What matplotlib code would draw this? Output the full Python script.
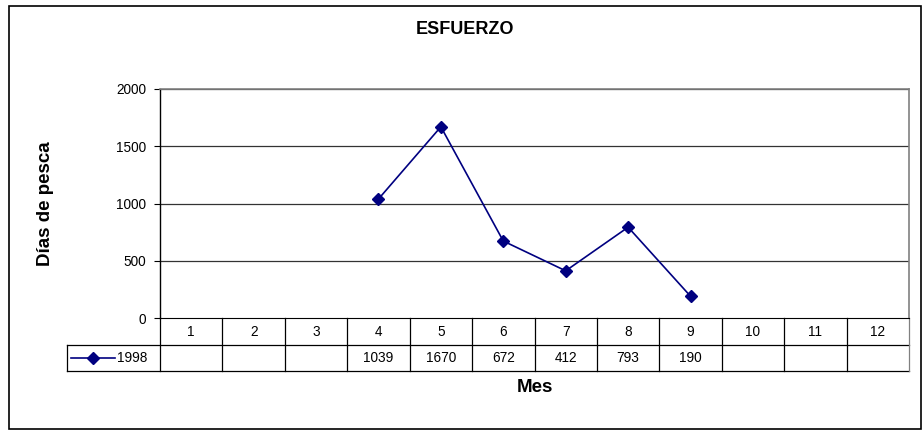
import matplotlib
matplotlib.use("Agg")
import matplotlib.pyplot as plt
from matplotlib.lines import Line2D
from matplotlib.patches import Rectangle
import matplotlib.transforms as mtransforms

plt.rcParams['font.family'] = ['Liberation Sans', 'DejaVu Sans']

# data
months = [1, 2, 3, 4, 5, 6, 7, 8, 9, 10, 11, 12]
dias_1998 = [None, None, None, 1039, 1670, 672, 412, 793, 190, None, None, None]
series_name = '1998'
yticks = [0, 500, 1000, 1500, 2000]

navy = '#000080'
fs_small = 9.8

fig = plt.figure(figsize=(9.22, 4.30), dpi=100)
W, H = 922, 430

# outer chart border
fig.patches.append(Rectangle((9 / W, 1 / H), 912 / W, 423 / H, transform=fig.transFigure,
                             fill=False, edgecolor='black', linewidth=1.2))

left, right, top, bottom = 160, 909, 89, 318
ax = fig.add_axes([left / W, 1 - bottom / H, (right - left) / W, (bottom - top) / H])

xs = [m for m, v in zip(months, dias_1998) if v is not None]
ys = [v for v in dias_1998 if v is not None]
ax.plot(xs, ys, color=navy, linewidth=1.2, marker='D', markersize=6,
        markerfacecolor=navy, markeredgecolor=navy)

ax.set_xlim(0.5, 12.5)
ax.set_ylim(0, 2000)
ax.set_yticks(yticks)
ax.set_yticklabels([str(t) for t in yticks], fontsize=fs_small)
ax.set_xticks([])
ax.tick_params(axis='y', length=4, width=0.8, pad=6)
for t in yticks[1:]:
    ax.axhline(t, color='#333333', linewidth=0.9, zorder=0)

ax.spines['left'].set_color('black')
ax.spines['left'].set_linewidth(1)
ax.spines['bottom'].set_color('black')
for s in ('top', 'right'):
    ax.spines[s].set_color('#808080')
    ax.spines[s].set_linewidth(1.2)

# data table below the plot
trans = mtransforms.blended_transform_factory(ax.transData, ax.transAxes)
col_px = (right - left) / 12
row_h = 27 / (bottom - top)
row2_h = 26 / (bottom - top)
y0 = 0
y1 = -row_h
y2 = -row_h - row2_h
label_x0 = 0.5 - (left - 67) / col_px

lw = 0.9
# horizontal lines
ax.add_line(Line2D([label_x0, 12.5], [y1, y1], transform=trans, color='black', lw=lw, clip_on=False))
ax.add_line(Line2D([label_x0, 12.5], [y2, y2], transform=trans, color='black', lw=lw, clip_on=False))
# vertical lines
for i in range(13):
    xv = 0.5 + i
    col = '#808080' if i == 12 else 'black'
    ax.add_line(Line2D([xv, xv], [y0, y2], transform=trans, color=col, lw=lw, clip_on=False))
ax.add_line(Line2D([label_x0, label_x0], [y1, y2], transform=trans, color='black', lw=lw, clip_on=False))

# header and value cells
for m, v in zip(months, dias_1998):
    ax.text(m, (y0 + y1) / 2, str(m), transform=trans, ha='center', va='center', fontsize=fs_small)
    if v is not None:
        ax.text(m, (y1 + y2) / 2, str(v), transform=trans, ha='center', va='center', fontsize=fs_small)

# legend key in the row label cell
ym = (y1 + y2) / 2
kx0 = label_x0 + 4 / col_px
kx1 = label_x0 + 48 / col_px
ax.add_line(Line2D([kx0, kx1], [ym, ym], transform=trans, color=navy, lw=1.2, clip_on=False))
ax.add_line(Line2D([(kx0 + kx1) / 2], [ym], transform=trans, color=navy, marker='D',
                   markersize=6, clip_on=False))
ax.text(kx1 + 2 / col_px, ym, series_name, transform=trans, ha='left', va='center', fontsize=fs_small)

# titles
fig.text(465 / W, 1 - 29 / H, 'ESFUERZO', ha='center', va='center', fontsize=13, fontweight='bold')
fig.text(45 / W, 1 - 204 / H, 'Días de pesca', ha='center', va='center', rotation=90,
         fontsize=13.5, fontweight='bold')
ax.text(6.5, -(388 - bottom) / (bottom - top), 'Mes', transform=trans, ha='center', va='center',
        fontsize=13.5, fontweight='bold')

fig.savefig('out.png', dpi=100)
